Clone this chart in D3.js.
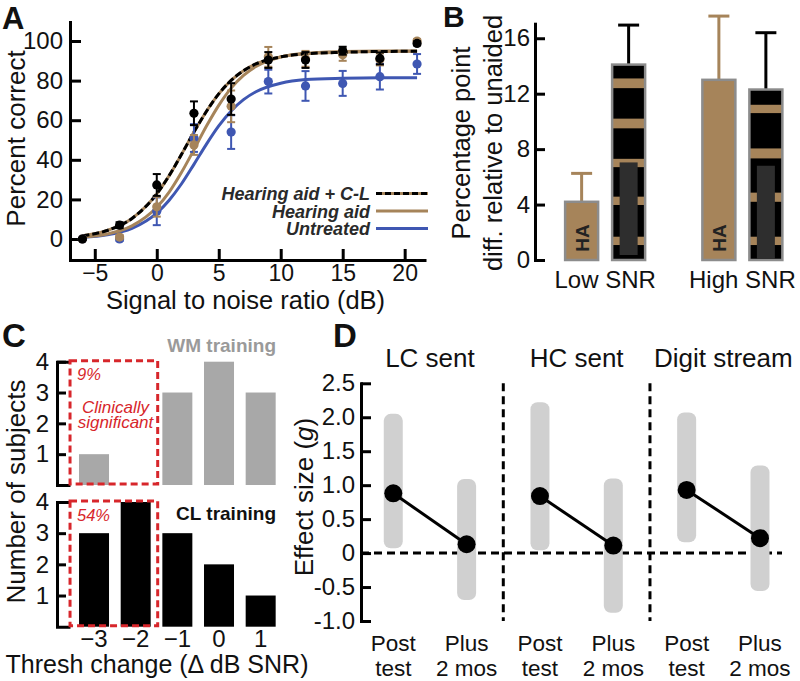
<!DOCTYPE html>
<html><head><meta charset="utf-8">
<script src="https://cdn.jsdelivr.net/npm/d3@7"></script>
<style>
body{margin:0;background:#fff;}
svg{display:block;font-family:"Liberation Sans",Arial,Helvetica,sans-serif;}
</style></head><body>
<svg id="c" width="800" height="681"></svg>
<script>
// ---------- Panel A data ----------
const snrLevels = [-6,-3,0,3,6,9,12,15,18,21];
const untreatedMean = [0,0,14,51,54,79.5,77.3,78.6,82,88.4];
const untreatedErr = [0.5,1,7,7,8.5,6,7.5,6.3,6.5,5];
const hearingAidMean = [0,1,16.3,47.5,67,92,91,93,90.7,100];
const hearingAidErr = [0.5,1,5,5,8,5,4,3,3,1];
const hearingAidCLMean = [0,7,27.3,63.5,70.7,90.4,90.4,95.1,91.2,98.8];
const hearingAidCLErr = [0.5,1.5,5.5,6,8,4,4,2,3,1];
const fitSnr = [-6,-4,-2,0,1,2,3,4,5,6,7,8,10,12,15,18,21];
const untreatedFit = [0.8,2.1,5.4,13.1,19.6,27.9,37.7,47.8,57.1,64.7,70.4,74.4,78.7,80.5,81.2,81.5,81.5];
const hearingAidFit = [1.0,2.5,6.6,16.0,23.7,33.7,45.1,56.9,67.5,76.2,82.6,87.1,91.9,93.8,94.7,95,95];
const hearingAidCLFit = [1.7,4.3,10.4,22.8,32.0,42.8,54.0,64.4,73.3,80.1,85.0,88.4,92.0,93.5,94.3,94.7,94.8];
const legendLabels = ["Hearing aid + C-L","Hearing aid","Untreated"];
const aXTicks = [-5,0,5,10,15,20];
const aYTicks = [0,20,40,60,80,100];

// ---------- Panel B data ----------
const snrGroups = ["Low SNR","High SNR"];
const treatments = ["HA","CL"];
const haDiff = [4.2,13.0];
const haDiffErr = [2.05,4.6];
const clDiff = [14.1,12.3];
const clDiffErr = [2.85,4.1];
const bYTicks = [0,4,8,12,16];
const clStripesLow = [[12.4,13.1],[9.5,10.2],[6.7,7.3],[3.97,4.57],[1.08,1.68]];
const clStripesHigh = [[10.6,11.2],[7.33,8.05],[4.2,4.86],[1.08,1.68]];
const clInnerLow = [0.36,7.04];
const clInnerHigh = [0.12,6.8];

// ---------- Panel C data ----------
const threshChange = [-3,-2,-1,0,1];
const threshLabels = ["\u22123","\u22122","\u22121","0","1"];
const wmCounts = [1,0,3,4,3];
const clCounts = [3,4,3,2,1];
const cYTicks = [1,2,3,4];

// ---------- Panel D data ----------
const dConditions = ["LC sent","HC sent","Digit stream"];
const dTimeLine1 = ["Post","Plus"];
const dTimeLine2 = ["test","2 mos"];
const effectPost = [0.88,0.84,0.93];
const effectPlus = [0.13,0.11,0.22];
const ciPostLow = [0.07,0.04,0.16];
const ciPostHigh = [2.05,2.22,2.07];
const ciPlusLow = [-0.69,-0.88,-0.56];
const ciPlusHigh = [1.09,1.10,1.29];
const dYTicks = [-1,-0.5,0,0.5,1,1.5,2,2.5];

const TAN = "#a6845a", BLUE = "#3f57b2", RED = "#d7262b", FONT = '"Liberation Sans",Arial,Helvetica,sans-serif';
const svg = d3.select("#c");

function styleAxis(g, fs){
  g.attr("font-family", null).attr("font-size", null);
  g.select(".domain").attr("stroke","#000").attr("stroke-width",3).attr("stroke-linecap","square");
  g.selectAll(".tick line").attr("stroke","#000").attr("stroke-width",3);
  g.selectAll(".tick text").attr("fill","#111").style("font-size",fs+"px").style("font-family",FONT);
}
function label(x,y,txt,opts={}){
  const t = svg.append("text").attr("x",x).attr("y",y).text(txt)
    .style("font-size",(opts.size||26)+"px").attr("fill",opts.fill||"#111")
    .attr("text-anchor",opts.anchor||"middle");
  if(opts.weight) t.style("font-weight",opts.weight);
  if(opts.style) t.style("font-style",opts.style);
  if(opts.rotate) t.attr("transform",`rotate(-90,${x},${y})`);
  return t;
}

// ================= Panel A =================
const xA = d3.scaleLinear().domain([-7,21.6]).range([70,424.5]);
const yA = d3.scaleLinear().domain([-10.6,109.6]).range([260,22]);
svg.append("g").attr("transform","translate(70,0)")
  .call(d3.axisLeft(yA).tickValues(aYTicks).tickSizeInner(-11).tickSizeOuter(0).tickPadding(7))
  .call(g=>styleAxis(g,24));
svg.append("g").attr("transform","translate(0,260)")
  .call(d3.axisBottom(xA).tickValues(aXTicks).tickSizeInner(-11).tickSizeOuter(0).tickPadding(4.5))
  .call(g=>styleAxis(g,23));

const lineA = d3.line().x(d=>xA(d[0])).y(d=>yA(d[1])).curve(d3.curveMonotoneX);
const zipFit = arr => fitSnr.map((x,i)=>[x,arr[i]]);
svg.append("path").attr("d",lineA(zipFit(untreatedFit))).attr("fill","none").attr("stroke",BLUE).attr("stroke-width",3);
svg.append("path").attr("d",lineA(zipFit(hearingAidFit))).attr("fill","none").attr("stroke",TAN).attr("stroke-width",3);
svg.append("path").attr("d",lineA(zipFit(hearingAidCLFit))).attr("fill","none").attr("stroke",TAN).attr("stroke-width",3);
svg.append("path").attr("d",lineA(zipFit(hearingAidCLFit))).attr("fill","none").attr("stroke","#000").attr("stroke-width",3).attr("stroke-dasharray","7,3");

function drawPoints(means, errs, color){
  const g = svg.append("g");
  snrLevels.forEach((x,i)=>{
    const cx = xA(x), y0 = yA(means[i]-errs[i]), y1 = yA(means[i]+errs[i]);
    g.append("line").attr("x1",cx).attr("x2",cx).attr("y1",y0).attr("y2",y1).attr("stroke",color).attr("stroke-width",2);
    [y0,y1].forEach(yy=>g.append("line").attr("x1",cx-4).attr("x2",cx+4).attr("y1",yy).attr("y2",yy).attr("stroke",color).attr("stroke-width",2));
  });
  g.selectAll("circle").data(means).join("circle")
    .attr("cx",(d,i)=>xA(snrLevels[i])).attr("cy",d=>yA(d)).attr("r",4.6).attr("fill",color);
}
drawPoints(untreatedMean, untreatedErr, BLUE);
drawPoints(hearingAidMean, hearingAidErr, TAN);
drawPoints(hearingAidCLMean, hearingAidCLErr, "#000");

// legend
const legY = [200,217.5,235];
legendLabels.forEach((t,i)=>{
  label(370,legY[i],t,{size:18,anchor:"end",weight:"bold",style:"italic",fill:"#2a2a2a"});
  const ly = legY[i]-6.5;
  if(i===0){
    svg.append("line").attr("x1",376).attr("x2",428).attr("y1",ly).attr("y2",ly).attr("stroke",TAN).attr("stroke-width",3);
    svg.append("line").attr("x1",376).attr("x2",428).attr("y1",ly).attr("y2",ly).attr("stroke","#000").attr("stroke-width",3).attr("stroke-dasharray","6,3");
  } else {
    svg.append("line").attr("x1",376).attr("x2",428).attr("y1",ly).attr("y2",ly).attr("stroke",i===1?TAN:BLUE).attr("stroke-width",3);
  }
});
label(25,138.5,"Percent correct",{rotate:true});
label(245.5,309,"Signal to noise ratio (dB)",{size:25.5});
label(2,29,"A",{size:31,anchor:"start",weight:"bold"});

// ================= Panel B =================
const yB = d3.scaleLinear().domain([0,17.05]).range([260,23.7]);
svg.append("g").attr("transform","translate(535,0)")
  .call(d3.axisLeft(yB).tickValues(bYTicks).tickSizeInner(-10).tickSizeOuter(0).tickPadding(5))
  .call(g=>styleAxis(g,24));
const xB0 = d3.scaleBand().domain(snrGroups).range([536.5,811]);
const xB1 = d3.scalePoint().domain(treatments).range([-23.5,23.5]);
const barW = 33;
function errBar(cx, v, e, color){
  svg.append("line").attr("x1",cx).attr("x2",cx).attr("y1",yB(v)).attr("y2",yB(v+e)).attr("stroke",color).attr("stroke-width",3);
  svg.append("line").attr("x1",cx-10.5).attr("x2",cx+10.5).attr("y1",yB(v+e)).attr("y2",yB(v+e)).attr("stroke",color).attr("stroke-width",3);
}
snrGroups.forEach((grp,gi)=>{
  const cxH = xB0(grp)+xB0.bandwidth()/2+xB1("HA");
  errBar(cxH, haDiff[gi], haDiffErr[gi], TAN);
  svg.append("rect").attr("x",cxH-barW/2).attr("width",barW).attr("y",yB(haDiff[gi])).attr("height",yB(0)-yB(haDiff[gi]))
    .attr("fill",TAN).attr("stroke","#8c8c8c").attr("stroke-width",2.5);
  svg.append("text").attr("transform",`translate(${cxH+7},238) rotate(-90)`).attr("text-anchor","middle")
    .style("font-size","19px").style("font-weight","bold").attr("fill","#222").text("HA");
  const cxC = xB0(grp)+xB0.bandwidth()/2+xB1("CL");
  errBar(cxC, clDiff[gi], clDiffErr[gi], "#000");
  svg.append("rect").attr("x",cxC-barW/2).attr("width",barW).attr("y",yB(clDiff[gi])).attr("height",yB(0)-yB(clDiff[gi])).attr("fill","#000");
  const stripes = gi===0?clStripesLow:clStripesHigh;
  stripes.forEach(s=>svg.append("rect").attr("x",cxC-barW/2).attr("width",barW).attr("y",yB(s[1])).attr("height",yB(s[0])-yB(s[1])).attr("fill",TAN));
  const inner = gi===0?clInnerLow:clInnerHigh;
  svg.append("rect").attr("x",cxC-9).attr("width",18).attr("y",yB(inner[1])).attr("height",yB(inner[0])-yB(inner[1])).attr("fill","#2e2e2e");
  svg.append("rect").attr("x",cxC-barW/2).attr("width",barW).attr("y",yB(clDiff[gi])).attr("height",yB(0)-yB(clDiff[gi]))
    .attr("fill","none").attr("stroke","#8c8c8c").attr("stroke-width",2.5);
  label(xB0(grp)+xB0.bandwidth()/2,288,grp,{size:24});
});
label(470,143,"Percentage point",{size:25.5,rotate:true});
label(502,143,"diff. relative to unaided",{size:25.5,rotate:true});
label(443,27,"B",{size:30,anchor:"start",weight:"bold"});

// ================= Panel C =================
const xC = d3.scaleBand().domain(threshChange).range([73.2,281.5]).paddingInner(0.28).paddingOuter(0.14);
const yC1 = d3.scaleLinear().domain([0,4]).range([485,361.7]);
const yC2 = d3.scaleLinear().domain([0,4]).range([626.7,502]);
[yC1,yC2].forEach(sc=>{
  svg.append("g").attr("transform","translate(57,0)")
    .call(d3.axisLeft(sc).tickValues(cYTicks).tickFormat(d3.format("d")).tickSizeInner(-9).tickSizeOuter(-12).tickPadding(8))
    .call(g=>styleAxis(g,24));
});
svg.selectAll(".wm").data(wmCounts).join("rect").attr("class","wm")
  .attr("x",(d,i)=>xC(threshChange[i])).attr("width",xC.bandwidth())
  .attr("y",d=>yC1(d)).attr("height",d=>yC1(0)-yC1(d)).attr("fill","#a8a8a8");
svg.selectAll(".clb").data(clCounts).join("rect").attr("class","clb")
  .attr("x",(d,i)=>xC(threshChange[i])).attr("width",xC.bandwidth())
  .attr("y",d=>yC2(d)).attr("height",d=>yC2(0)-yC2(d)).attr("fill","#000");
svg.append("g").attr("transform","translate(0,626.7)")
  .call(d3.axisBottom(xC).tickSize(0).tickPadding(3).tickFormat((d,i)=>threshLabels[i]))
  .call(g=>{styleAxis(g,24); g.select(".domain").remove();});
[yC1,yC2].forEach(sc=>{
  const x0 = xC(-3)-9, x1 = xC(-2)+xC.bandwidth()+7;
  svg.append("rect").attr("x",x0).attr("width",x1-x0).attr("y",sc(4)-1).attr("height",sc(0)-sc(4))
    .attr("fill","none").attr("stroke",RED).attr("stroke-width",3).attr("stroke-dasharray","7,4");
});
label(77,380,"9%",{size:16.5,anchor:"start",style:"italic",fill:RED});
label(115.5,412.7,"Clinically",{size:17,style:"italic",fill:RED});
label(115.5,428,"significant",{size:17,style:"italic",fill:RED});
label(77,520.5,"54%",{size:16.5,anchor:"start",style:"italic",fill:RED});
label(276,352,"WM training",{size:19,anchor:"end",weight:"bold",fill:"#9a9a9a"});
label(276,520,"CL training",{size:19,anchor:"end",weight:"bold",fill:"#111"});
label(25,491.5,"Number of subjects",{rotate:true});
label(157,673,"Thresh change (\u0394 dB SNR)",{size:25});
label(2,347,"C",{size:33,anchor:"start",weight:"bold"});

// ================= Panel D =================
const xD = d3.scaleLinear().domain([-0.44,5.3]).range([361,782]);
const yD = d3.scaleLinear().domain([-1,2.5]).range([621,383.3]);
svg.append("g").attr("transform","translate(361,0)")
  .call(d3.axisLeft(yD).tickValues(dYTicks).tickSizeInner(-10).tickSizeOuter(0).tickPadding(6)
    .tickFormat(d=>d===0?"0":(d<0?"-":"")+Math.abs(d).toFixed(1)))
  .call(g=>styleAxis(g,24));
[1.5,3.5].forEach(v=>svg.append("line").attr("x1",xD(v)).attr("x2",xD(v)).attr("y1",yD(2.5)).attr("y2",yD(-1))
  .attr("stroke","#000").attr("stroke-width",3).attr("stroke-dasharray","8,5"));
svg.append("line").attr("x1",xD(-0.44)).attr("x2",xD(5.3)).attr("y1",yD(0)).attr("y2",yD(0))
  .attr("stroke","#000").attr("stroke-width",3).attr("stroke-dasharray","8,5");
dConditions.forEach((c,ci)=>{
  const iPost = ci*2, iPlus = ci*2+1;
  [[iPost,ciPostLow[ci],ciPostHigh[ci]],[iPlus,ciPlusLow[ci],ciPlusHigh[ci]]].forEach(([ix,lo,hi])=>{
    svg.append("rect").attr("x",xD(ix)-9.5).attr("width",19).attr("y",yD(hi)).attr("height",yD(lo)-yD(hi))
      .attr("rx",7).attr("fill","#d0d0d0");
  });
});
dConditions.forEach((c,ci)=>{
  const iPost = ci*2, iPlus = ci*2+1;
  svg.append("line").attr("x1",xD(iPost)).attr("x2",xD(iPlus)).attr("y1",yD(effectPost[ci])).attr("y2",yD(effectPlus[ci]))
    .attr("stroke","#000").attr("stroke-width",3);
  svg.append("circle").attr("cx",xD(iPost)).attr("cy",yD(effectPost[ci])).attr("r",9).attr("fill","#000");
  svg.append("circle").attr("cx",xD(iPlus)).attr("cy",yD(effectPlus[ci])).attr("r",9).attr("fill","#000");
  label(xD(ci*2+0.5),367,c,{size:26});
  [0,1].forEach(t=>{
    label(xD(ci*2+t),651,dTimeLine1[t],{size:22.5});
    label(xD(ci*2+t),675.5,dTimeLine2[t],{size:22.5});
  });
});
const eff = svg.append("text").attr("transform","rotate(-90,313,497)").attr("x",313).attr("y",497)
  .attr("text-anchor","middle").style("font-size","26px").attr("fill","#111");
eff.append("tspan").text("Effect size (");
eff.append("tspan").style("font-style","italic").text("g");
eff.append("tspan").text(")");
label(333,347,"D",{size:33,anchor:"start",weight:"bold"});
</script>
</body></html>
